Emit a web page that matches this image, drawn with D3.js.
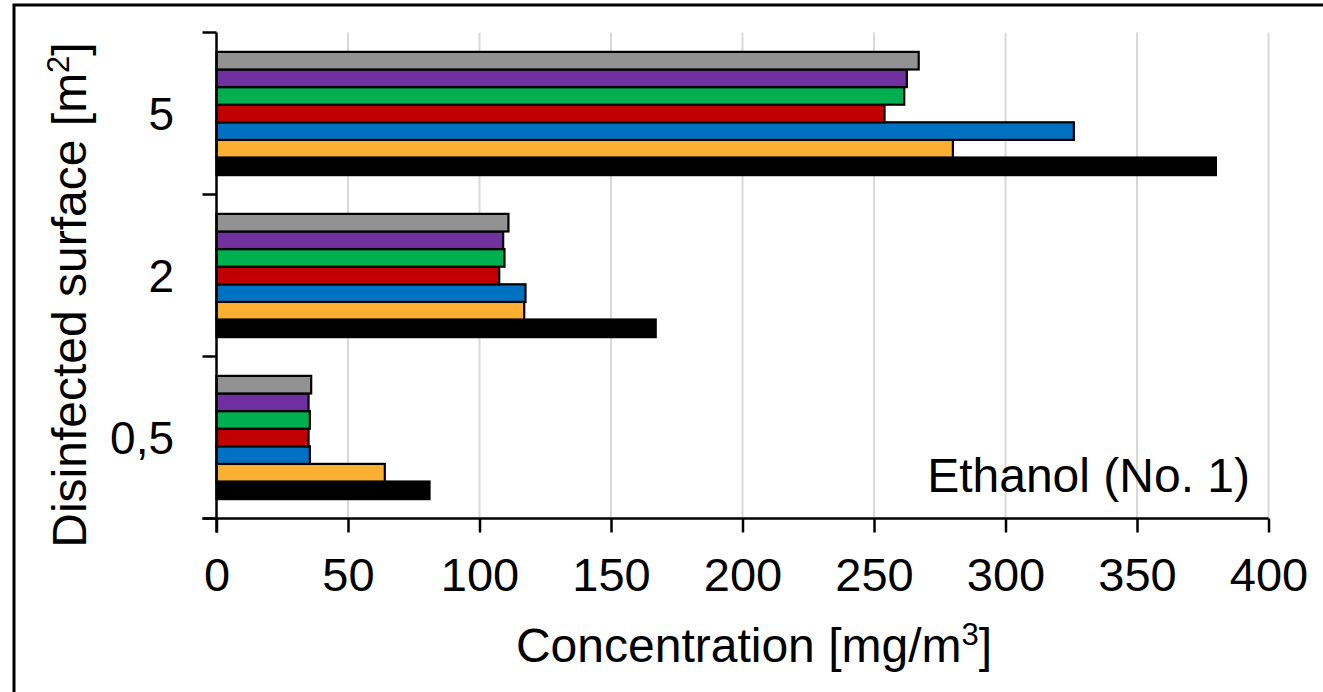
<!DOCTYPE html>
<html>
<head>
<meta charset="utf-8">
<script src="https://cdn.jsdelivr.net/npm/d3@7"></script>
<style>
  html, body { margin: 0; padding: 0; background: #fff; }
  svg { display: block; font-family: "Liberation Sans", Arial, sans-serif; }
</style>
</head>
<body>
<svg id="chart" width="1323" height="692"></svg>
<script>
// ---- data ----
const categories = ["5", "2", "0,5"];            // disinfected surface [m2], top to bottom
const seriesNames = ["Series 1", "Series 2", "Series 3", "Series 4", "Series 5", "Series 6", "Series 7"];
const seriesColors = ["#000000", "#FBB034", "#0070C0", "#C00000", "#00B050", "#7030A0", "#929292"];
// values per series, in order of categories ["5","2","0,5"]
const series1 = [380, 167, 81];
const series2 = [280, 117, 64];
const series3 = [326, 117.5, 35.5];
const series4 = [254, 107.5, 35];
const series5 = [261.5, 109.5, 35.5];
const series6 = [262.5, 109, 35];
const series7 = [267, 111, 36];
const seriesValues = [series1, series2, series3, series4, series5, series6, series7];
const xTicks = [0, 50, 100, 150, 200, 250, 300, 350, 400];

(function () {
// ---- layout ----
const svg = d3.select("#chart");
const pLeft = 216.5, pRight = 1268.5, pTop = 32.5, pBottom = 518.5;

// frame (only top and left edges are visible in the picture)
svg.append("rect")
  .attr("x", 14).attr("y", 5)
  .attr("width", 1400).attr("height", 800)
  .attr("fill", "none").attr("stroke", "#000").attr("stroke-width", 3);

const x = d3.scaleLinear().domain([0, 400]).range([pLeft, pRight]);
const y = d3.scaleBand().domain(categories).range([pTop, pBottom]).padding(0);
const inner = d3.scaleBand()
  .domain(seriesNames.slice().reverse())     // Series 7 at top, Series 1 at bottom
  .range([0, y.bandwidth()])
  .paddingInner(0).paddingOuter(1.1);

// gridlines
svg.append("g").selectAll("line")
  .data(xTicks.filter(d => d > 0))
  .join("line")
  .attr("x1", d => x(d)).attr("x2", d => x(d))
  .attr("y1", pTop).attr("y2", pBottom)
  .attr("stroke", "#D9D9D9").attr("stroke-width", 2);

// bars
const rows = [];
categories.forEach((c, ci) => {
  seriesNames.forEach((s, si) => rows.push({ cat: c, s, color: seriesColors[si], v: seriesValues[si][ci] }));
});
svg.append("g").selectAll("rect")
  .data(rows)
  .join("rect")
  .attr("x", x(0))
  .attr("y", d => y(d.cat) + inner(d.s))
  .attr("width", d => x(d.v) - x(0))
  .attr("height", inner.bandwidth())
  .attr("fill", d => d.color)
  .attr("stroke", "#000").attr("stroke-width", 2.2);

// x axis
const xAxis = svg.append("g")
  .attr("transform", `translate(0,${pBottom})`)
  .call(d3.axisBottom(x).tickValues(xTicks).tickSize(14).tickSizeOuter(0));
xAxis.select(".domain").attr("stroke", "#000").attr("stroke-width", 2.5)
  .attr("d", `M${pLeft - 14},0H${pRight}`);
xAxis.selectAll(".tick line").attr("stroke", "#000").attr("stroke-width", 2.5);
xAxis.selectAll(".tick text")
  .attr("y", 39).attr("dy", "0.71em")
  .attr("fill", "#000")
  .style("font-size", "47px")
  .style("font-family", "'Liberation Sans', Arial, sans-serif");

// y axis: line and boundary ticks
const yAxis = svg.append("g");
yAxis.append("line")
  .attr("x1", pLeft).attr("x2", pLeft).attr("y1", pTop).attr("y2", pBottom + 14)
  .attr("stroke", "#000").attr("stroke-width", 2.5);
const bounds = categories.map(c => y(c)).concat([pBottom]);
yAxis.selectAll("line.tk").data(bounds).join("line").attr("class", "tk")
  .attr("x1", pLeft - 14).attr("x2", pLeft)
  .attr("y1", d => d).attr("y2", d => d)
  .attr("stroke", "#000").attr("stroke-width", 2.5);
yAxis.selectAll("text").data(categories).join("text")
  .attr("x", 174)
  .attr("y", d => y(d) + y.bandwidth() / 2)
  .attr("dy", "0.36em")
  .attr("text-anchor", "end")
  .style("font-size", "46px")
  .text(d => d);

// axis titles
const xt = svg.append("text")
  .attr("x", 754).attr("y", 662)
  .attr("text-anchor", "middle")
  .style("font-size", "48px");
xt.append("tspan").text("Concentration [mg/m");
xt.append("tspan").attr("dy", -17).style("font-size", "31px").text("3");
xt.append("tspan").attr("dy", 17).text("]");

const yt = svg.append("text")
  .attr("transform", "translate(86,295) rotate(-90)")
  .attr("text-anchor", "middle")
  .style("font-size", "48px");
yt.append("tspan").text("Disinfected surface [m");
yt.append("tspan").attr("dy", -17).style("font-size", "31px").text("2");
yt.append("tspan").attr("dy", 17).text("]");

// annotation
svg.append("text")
  .attr("x", 1250).attr("y", 492)
  .attr("text-anchor", "end")
  .style("font-size", "48px")
  .text("Ethanol (No. 1)");
})();
</script>
</body>
</html>
